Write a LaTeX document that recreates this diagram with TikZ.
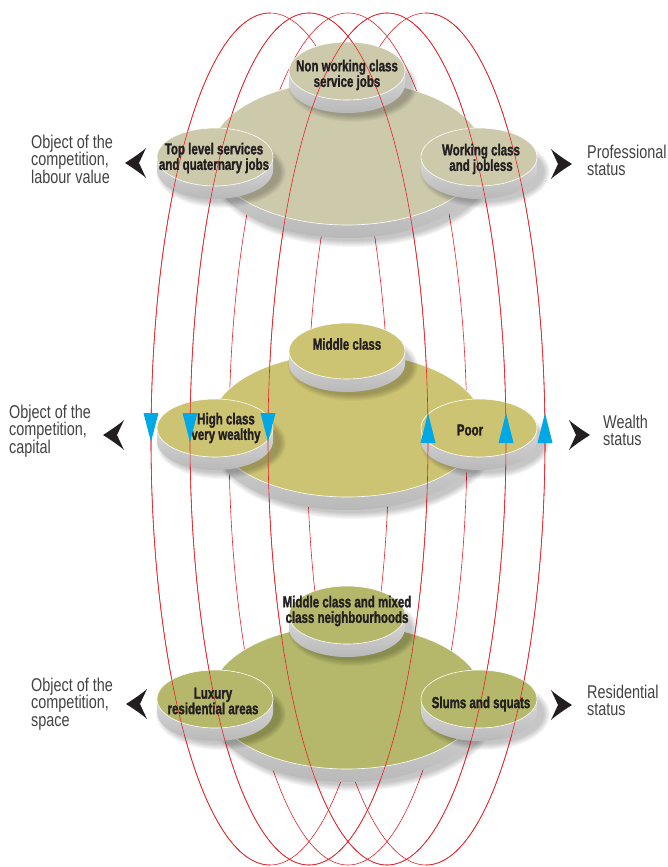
\documentclass[tikz,border=0pt]{standalone}
\usepackage{fontspec}
\setmainfont{Liberation Sans}
\newfontfamily\diskfont[FakeStretch=0.72, BoldFeatures={FakeBold=1.3}]{Liberation Sans}
\newfontfamily\sidefont[FakeStretch=0.78]{Liberation Sans}

\definecolor{profface}{HTML}{CDCAAC}
\definecolor{wealthface}{HTML}{CDC473}
\definecolor{resface}{HTML}{B5B86A}
\definecolor{loopred}{HTML}{E62129}
\definecolor{flowcyan}{HTML}{00A9E6}
\definecolor{inkgray}{HTML}{231F20}

\tikzset{
  diskedge/.style={top color=gray!30, bottom color=gray!55, draw=none},
  redloop/.style={draw=loopred, line width=0.6pt},
  disklabel/.style={font=\diskfont\bfseries\fontsize{16}{15.5}\selectfont, text=inkgray, align=center, inner sep=0pt},
  sidelabel/.style={font=\sidefont\fontsize{18.5}{17.5}\selectfont, text=inkgray!85, align=left, inner sep=0pt, anchor=north west},
  chevron/.style={fill=inkgray}
}

% centre x, centre y, x radius, y radius, face colour
\newcommand{\drawdisk}[5]{%
  \foreach \s in {1,...,7}
    \fill[black, opacity=0.035] (#1+6, #2+15) ellipse ({#3+\s} and {#4+\s});
  \shade[diskedge] (#1-#3, #2) arc[start angle=180, end angle=0, x radius=#3, y radius=#4]
    -- ++(0,13) arc[start angle=0, end angle=180, x radius=#3, y radius=#4] -- cycle;
  \filldraw[fill=#5, draw=white, line width=0.6pt] (#1, #2) ellipse (#3 and #4);
}

\begin{document}
\begin{tikzpicture}[x=1pt, y=-1pt]
  \useasboundingbox (0,0) rectangle (667,867);

  % loops, back parts
  \foreach \cx in {270,309,348,387,426}
    \draw[redloop] (\cx,439) ellipse (119 and 426);

  % Professional status
  \drawdisk{347}{153}{136}{72}{profface}
  \drawdisk{347}{71}{58}{29}{profface}
  \drawdisk{215}{157}{58}{29}{profface}
  \drawdisk{479}{157}{58}{29}{profface}

  % Wealth status
  \drawdisk{347}{425}{136}{72}{wealthface}
  \drawdisk{347}{351}{58}{28}{wealthface}
  \drawdisk{215}{428}{58}{29}{wealthface}
  \drawdisk{479}{428}{58}{29}{wealthface}

  % Residential status
  \drawdisk{347}{697}{136}{72}{resface}
  \drawdisk{347}{615}{58}{29}{resface}
  \drawdisk{215}{699}{58}{29}{resface}
  \drawdisk{479}{699}{58}{29}{resface}

  % loops, front parts
  \draw[redloop] (270,865) arc[start angle=90, end angle=270, x radius=119, y radius=426];
  \draw[redloop] (309,439) ellipse (119 and 426);
  \draw[redloop] (387,439) ellipse (119 and 426);
  \draw[redloop] (426,13) arc[start angle=-90, end angle=90, x radius=119, y radius=426];

  % disk labels
  \node[disklabel] (nonwork) at (347,75) {Non working class\\service jobs};
  \node[disklabel] (toplevel) at (214,158) {Top level services\\and quaternary jobs};
  \node[disklabel] (working) at (481,159) {Working class\\and jobless};
  \node[disklabel] (middle) at (347,344) {Middle class};
  \node[disklabel] (high) at (226,428) {High class\\very wealthy};
  \node[disklabel] (poor) at (470,430) {Poor};
  \node[disklabel] (mixed) at (347,611) {Middle class and mixed\\class neighbourhoods};
  \node[disklabel] (luxury) at (213,701) {Luxury\\residential areas};
  \node[disklabel] (slums) at (481,704) {Slums and squats};

  % flow direction marks
  \foreach \tx in {151,190,268}
    \fill[flowcyan] (\tx-7.5,413) -- (\tx+7.5,413) -- (\tx,442) -- cycle;
  \foreach \tx in {428,506,545}
    \fill[flowcyan] (\tx,413) -- (\tx+7.5,443) -- (\tx-7.5,443) -- cycle;

  % side chevrons
  \foreach \tx/\ty/\d in {125/163/1,103/435/1,126/704/1,572/164/-1,590/435/-1,572/705/-1}
    \fill[chevron] (\tx,\ty) .. controls +(8*\d,-5) and +(-3*\d,3) .. ++(21*\d,-15)
      -- ++(-7*\d,15) -- ++(7*\d,15) .. controls +(-3*\d,-3) and +(8*\d,5) .. (\tx,\ty) -- cycle;

  % side labels
  \node[sidelabel] (labourobj) at (31,134.5) {Object of the\\competition,\\labour value};
  \node[sidelabel] (capitalobj) at (9,404.5) {Object of the\\competition,\\capital};
  \node[sidelabel] (spaceobj) at (31,677.5) {Object of the\\competition,\\space};
  \node[sidelabel] (profstatus) at (587,144.5) {Professional\\status};
  \node[sidelabel] (wealthstatus) at (603,414.5) {Wealth\\status};
  \node[sidelabel] (resstatus) at (587,684.5) {Residential\\status};
\end{tikzpicture}
\end{document}
